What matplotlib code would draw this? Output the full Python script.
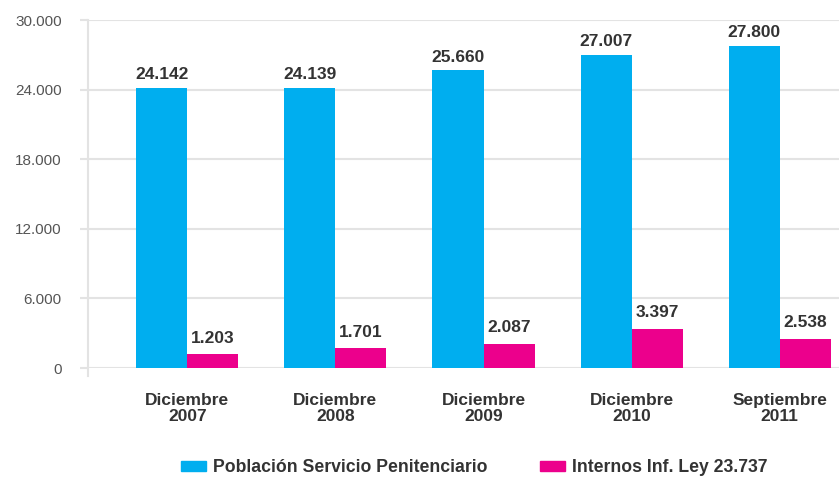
import matplotlib
matplotlib.use("Agg")
from matplotlib import pyplot as plt
from matplotlib.patches import Patch
import numpy as np

# Población penal por período
periodos = ["Diciembre\n2007", "Diciembre\n2008", "Diciembre\n2009",
            "Diciembre\n2010", "Septiembre\n2011"]
poblacion_spf = [24142, 24139, 25660, 27007, 27800]
internos_ley = [1203, 1701, 2087, 3397, 2538]
yticks = [0, 6000, 12000, 18000, 24000, 30000]

AZUL = "#00aeef"
ROSA = "#ec008c"
GRIS = "#e3e3e3"
TEXTO = "#333333"


def miles(v):
    return f"{v:,}".replace(",", ".")


plt.rcParams['font.family'] = ['Liberation Sans', 'DejaVu Sans']

fig = plt.figure(figsize=(8.39, 4.82), dpi=100)
ax = fig.add_axes([0.1049, 0.2365, 0.8951, 0.722])

x = np.arange(len(periodos))
w = 0.345
ax.bar(x - w/2, poblacion_spf, w, color=AZUL, zorder=3)
ax.bar(x + w/2, internos_ley, w, color=ROSA, zorder=3)

for xi, v in zip(x, poblacion_spf):
    ax.annotate(miles(v), (xi - w/2, v), xytext=(0, 4), textcoords='offset points',
                ha='center', va='bottom', fontsize=12.5, fontweight='bold', color=TEXTO)
for xi, v in zip(x, internos_ley):
    ax.annotate(miles(v), (xi + w/2, v), xytext=(0, 6), textcoords='offset points',
                ha='center', va='bottom', fontsize=12.5, fontweight='bold', color=TEXTO)

ax.set_xlim(-0.67, 4.40)
ax.set_ylim(0, 30000)
ax.set_yticks(yticks)
ax.set_yticklabels([miles(t) for t in yticks], fontsize=11, color='#555555')
ax.tick_params(axis='y', length=6, width=1.5, color=GRIS, pad=13)
ax.set_xticks(x)
ax.set_xticklabels(periodos, fontsize=12.5, fontweight='bold', color=TEXTO,
                   linespacing=1.12)
ax.tick_params(axis='x', length=0, pad=18)

ax.grid(axis='y', color=GRIS, lw=1.5, zorder=0)
for s in ['top', 'right', 'bottom']:
    ax.spines[s].set_visible(False)
ax.spines['left'].set_color(GRIS)
ax.spines['left'].set_linewidth(1.5)
ax.spines['left'].set_bounds(-650, 30000)

handles = [Patch(color=AZUL, label='Población Servicio Penitenciario'),
           Patch(color=ROSA, label='Internos Inf. Ley 23.737')]
leg = fig.legend(handles=handles, loc='center', bbox_to_anchor=(0.565, 1 - 468/482),
                 ncol=2, frameon=False, handlelength=1.4, handleheight=0.45,
                 handletextpad=0.4, columnspacing=3.0,
                 prop={'weight': 'bold', 'size': 12.7})
for t in leg.get_texts():
    t.set_color(TEXTO)

fig.savefig('out.png', dpi=100)
